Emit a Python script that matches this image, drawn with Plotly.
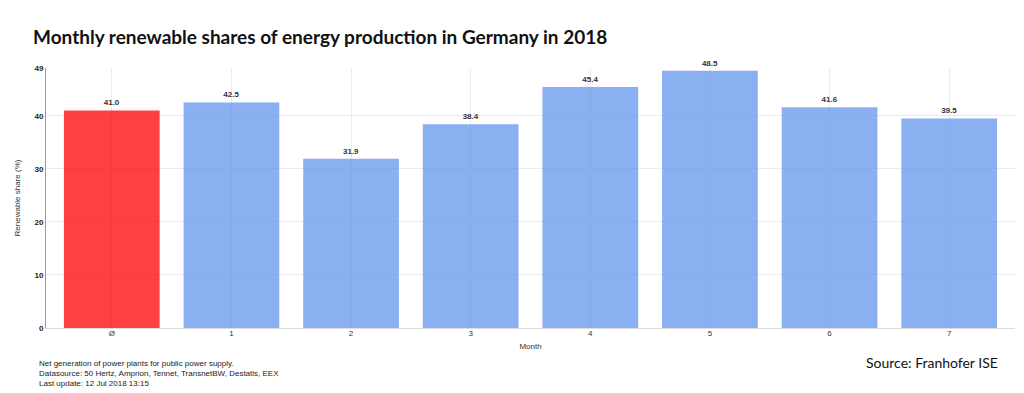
import plotly.graph_objects as go

categories = ["Ø", "1", "2", "3", "4", "5", "6", "7"]
shares = [41.0, 42.5, 31.9, 38.4, 45.4, 48.5, 41.6, 39.5]
colors = ["rgba(255,0,0,0.75)"] + ["rgba(100,149,237,0.75)"] * 7
y_ticks = [0, 10, 20, 30, 40, 49]
footnotes = [
    "Net generation of power plants for public power supply.",
    "Datasource: 50 Hertz, Amprion, Tennet, TransnetBW, Destatis, EEX",
    "Last update: 12 Jul 2018 13:15",
]

OFF = 8  # page body margin
W, H = 1024 - OFF, 393 - OFF
L, R, T, B = 39 - OFF, 9, 68 - OFF, 65
PW, PH = W - L - R, H - T - B

def px_x(px):
    return (px - OFF - L) / PW

def px_y(py):
    return (H - B - (py - OFF)) / PH

fig = go.Figure()
fig.add_trace(go.Bar(
    x=categories, y=shares,
    marker=dict(color=colors, line=dict(width=0)),
    text=[f"{v:.1f}" for v in shares],
    textposition="outside",
    textfont=dict(family="Arial", size=8, color="#333333", weight="bold"),
    cliponaxis=False,
    width=0.8,
    hoverinfo="x+y",
))

fig.update_layout(
    width=W, height=H,
    margin=dict(l=L, r=R, t=T, b=B),
    paper_bgcolor="white", plot_bgcolor="white",
    showlegend=False,
    font=dict(family="Arial", size=9, color="#333333"),
    title=dict(
        text="Monthly renewable shares of energy production in Germany in 2018",
        x=(33 - OFF) / W, xanchor="left", xref="container",
        y=1 - (37 - OFF) / H, yanchor="middle", yref="container",
        font=dict(family="Lato", size=19, color="#111111", weight="bold"),
    ),
    xaxis=dict(
        type="category", range=[-0.55, 7.55],
        showgrid=True, gridcolor="#ebebeb", gridwidth=1,
        showline=True, linecolor="#dddddd", linewidth=1,
        ticks="", ticklabelstandoff=-3,
        tickfont=dict(family="Arial", size=8, color="#333333"),
        title=dict(text="Month", font=dict(family="Arial", size=8, color="#333333"), standoff=6),
        fixedrange=True,
    ),
    yaxis=dict(
        range=[0, 49], tickvals=y_ticks, ticktext=[str(t) for t in y_ticks],
        showgrid=True, gridcolor="#ebebeb", gridwidth=1,
        showline=True, linecolor="#999999", linewidth=1,
        zeroline=False, ticks="",
        tickfont=dict(family="Arial", size=8, color="#222222", weight="bold"),
        title=dict(text="Renewable share (%)", font=dict(family="Arial", size=8, color="#333333"), standoff=12),
        fixedrange=True,
    ),
)

for i, line in enumerate(footnotes):
    fig.add_annotation(
        text=line,
        x=px_x(30), y=px_y(363 + 10 * i), xref="paper", yref="paper",
        xanchor="left", yanchor="middle", align="left", showarrow=False,
        font=dict(family="Arial", size=8, color="#222222"),
    )
fig.add_annotation(
    text="Source: Franhofer ISE",
    x=px_x(1000), y=px_y(362), xref="paper", yref="paper",
    xanchor="right", yanchor="middle", showarrow=False,
    font=dict(family="Lato", size=14, color="#111111"),
)

fig.write_html("out.html")
